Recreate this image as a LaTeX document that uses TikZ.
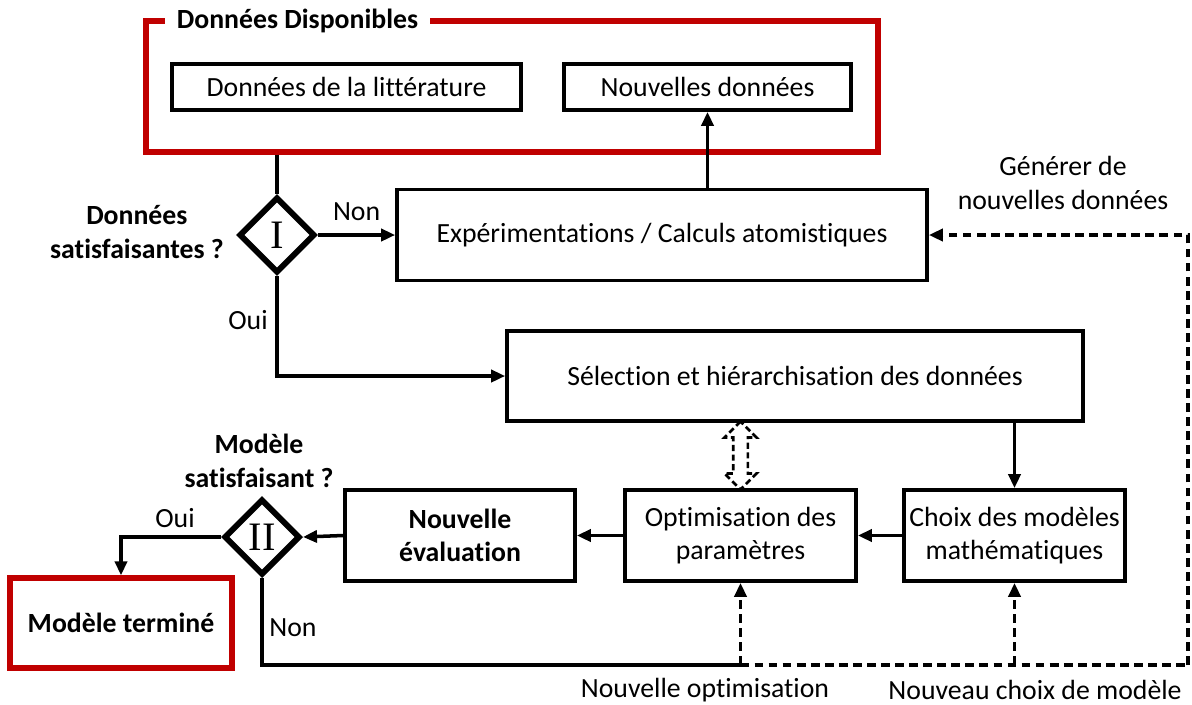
\documentclass[tikz,border=0pt]{standalone}
\usepackage{fontspec}
\setmainfont[Ligatures=NoCommon]{Carlito}
\newfontfamily\romfont{Liberation Serif}
\usepackage{tikz}
\usetikzlibrary{arrows.meta,positioning,shapes.geometric,shapes.arrows,calc}
\definecolor{rouge}{HTML}{C00000}

\begin{document}
\begin{tikzpicture}[
x=0.02cm,y=-0.02cm,
font=\fontsize{15.8}{19}\selectfont,
box/.style={draw=black,line width=2.1pt,align=center,minimum height=1.82cm,inner sep=2pt},
redbox/.style={draw=rouge,line width=3pt,align=center,minimum height=1.8cm},
losange/.style={draw=black,line width=3.4pt,diamond,aspect=1,inner sep=0pt,minimum width=1.52cm,minimum height=1.52cm,font=\romfont\fontsize{23}{23}\selectfont},
lbl/.style={align=center,inner sep=0pt},
arr/.style={-{Triangle[length=0.28cm,width=0.24cm]},line width=2pt},
lin/.style={line width=2pt},
darr/.style={arr,dash pattern=on 5pt off 3pt},
dlin/.style={lin,dash pattern=on 5pt off 3pt}
]
\useasboundingbox (0,0) rectangle (1192,704);

% donnees disponibles
\node[draw=rouge,line width=3pt,minimum width=14.64cm,minimum height=2.62cm] (dispo) at (512,86.5) {};
\node[fill=white,inner xsep=0.24cm,inner ysep=1pt,font=\fontsize{15.8}{19}\selectfont\bfseries] (titre) at (297.5,21) {Données Disponibles};
\node[box,minimum width=6.98cm,minimum height=0.92cm] (lit) at (346.5,87) {Données de la littérature};
\node[box,minimum width=5.74cm,minimum height=0.92cm] (nouv) at (707.5,87) {Nouvelles données};

% boucle donnees
\node[losange] (dI) at (277,235) {I};
\node[lbl,font=\fontsize{15.8}{19}\selectfont\bfseries,anchor=east] (qI) at (224,232) {Données\\satisfaisantes ?};
\node[box,minimum width=10.6cm] (exp) at (662,235) {Expérimentations / Calculs atomistiques};
\node[box,minimum width=11.52cm,minimum height=1.8cm] (sel) at (795,376) {Sélection et hiérarchisation des données};
\draw[lin] (dispo.south -| dI) -- (dI.north);
\draw[arr] (dI.east) -- node[lbl,above=7pt] {Non} (exp.west);
\draw[arr] (exp.north -| nouv) -- (nouv.south);
\draw[arr] (dI.south) |- (sel.west);
\node[lbl] at (248,320) {Oui};
\node[lbl] (gen) at (1063,183) {Générer de\\nouvelles données};

% modele
\node[box,minimum width=4.42cm] (choix) at (1014.5,535.5) {Choix des modèles\\mathématiques};
\node[box,minimum width=4.62cm] (optim) at (740.5,535.5) {Optimisation des\\paramètres};
\node[box,minimum width=4.6cm,font=\fontsize{15.8}{19}\selectfont\bfseries] (eval) at (460,535.5) {Nouvelle\\évaluation};
\node[losange] (dII) at (262,537) {II};
\node[lbl,font=\fontsize{15.8}{19}\selectfont\bfseries] (qII) at (259,461) {Modèle\\satisfaisant ?};
\node[redbox,minimum width=4.44cm,font=\fontsize{15.8}{19}\selectfont\bfseries] (term) at (121,623) {Modèle terminé};
\node[double arrow,rotate=90,draw=black,line width=1.5pt,dash pattern=on 3.5pt off 2pt,minimum height=1.36cm,minimum width=0.64cm,double arrow head extend=0.15cm,inner sep=0.1cm] (lien) at ($(sel.south -| optim)!0.5!(optim.north)$) {};
\draw[arr] (sel.south -| choix) -- (choix.north);
\draw[arr] (choix.west) -- (optim.east);
\draw[arr] (optim.west) -- (eval.east);
\draw[arr] (eval.west) -- (dII.east);
\draw[arr] (dII.west) -| (term.north);
\node[lbl] at (175,518) {Oui};

% retours
\coordinate (retour) at (1188,665);
\coordinate (piedopt) at (optim.south |- retour);
\coordinate (piedchoix) at (choix.south |- retour);
\draw[lin] (dII.south) |- (piedopt);
\node[lbl] at (293,628) {Non};
\draw[dlin] (piedopt) -- (retour);
\draw[darr] (retour) |- (exp.east);
\draw[darr] (piedopt) -- (optim.south);
\draw[darr] (piedchoix) -- (choix.south);
\node[lbl] at (705,690) {Nouvelle optimisation};
\node[lbl] at (1035,690) {Nouveau choix de modèle};
\end{tikzpicture}
\end{document}
